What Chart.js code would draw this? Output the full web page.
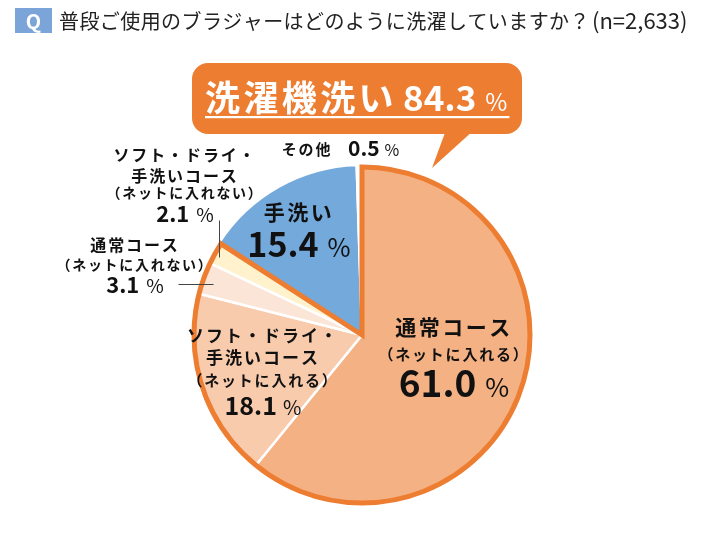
<!DOCTYPE html>
<html>
<head>
<meta charset="utf-8">
<script src="https://cdn.jsdelivr.net/npm/chart.js@4"></script>
<style>
  html, body { margin: 0; padding: 0; background: #fff; }
  #wrap { width: 710px; height: 533px; }
</style>
</head>
<body>
<div id="wrap"><canvas id="pie" width="710" height="533"></canvas></div>
<script>
// data
const title = '普段ご使用のブラジャーはどのように洗濯していますか？';
const sampleNote = '(n=2,633)';
const categories = [
  ['通常コース', '（ネットに入れる）'],
  ['ソフト・ドライ・', '手洗いコース', '（ネットに入れる）'],
  ['通常コース', '（ネットに入れない）'],
  ['ソフト・ドライ・', '手洗いコース', '（ネットに入れない）'],
  ['手洗い'],
  ['その他']
];
const shares = [61.0, 18.1, 3.1, 2.1, 15.4, 0.5];
const groupLabel = '洗濯機洗い';
const groupValue = 84.3;
const groupSize = 4; // first four slices are machine washing

const sliceColors = ['#F4B183', '#F8CBAD', '#FBE5D6', '#FFF2CC', '#74A9DB', '#FFFFFF'];
const ORANGE = '#ED7D31';
const FONT = '"Noto Sans CJK JP", "Noto Sans", sans-serif';

// where each slice's text goes
const labelLayout = [
  { x: 454, lineY: [327, 354], lineSize: [21, 15], valueY: 397, valueSize: 37, pctSize: 26, gap: 9 },
  { x: 263, lineY: [336, 358, 380], lineSize: [17, 17, 15], valueY: 415, valueSize: 25, pctSize: 20, gap: 6 },
  { x: 135, lineY: [245, 265], lineSize: [16, 14], valueY: 293, valueSize: 22, pctSize: 19, gap: 7 },
  { x: 185, lineY: [155, 176, 193], lineSize: [16, 16, 14], valueY: 222, valueSize: 22, pctSize: 19, gap: 7 },
  { x: 299, lineY: [212], lineSize: [21], valueY: 257, valueSize: 34, pctSize: 25, gap: 9 },
  { x: 307, lineY: [149], lineSize: [15], valueX: 348, valueY: 156, valueSize: 21, pctSize: 16, gap: 5 }
];
const leaders = [
  [219, 220, 219, 257],
  [178, 284, 213, 284]
];

function fmt(v) { return v.toFixed(1); }

// spread text so that it covers a given width
function fitSpacing(ctx, text, width) {
  ctx.letterSpacing = '0px';
  const w = ctx.measureText(text).width;
  ctx.letterSpacing = Math.max(0, (width - w) / text.length).toFixed(2) + 'px';
}

function drawValue(ctx, v, x, y, big, small, gap, leftAlign) {
  ctx.font = 'bold ' + big + 'px ' + FONT;
  const num = fmt(v);
  const wn = ctx.measureText(num).width;
  ctx.font = small + 'px ' + FONT;
  const wp = ctx.measureText('%').width;
  const start = leftAlign ? x : x - (wn + gap + wp) / 2;
  ctx.textAlign = 'left';
  ctx.textBaseline = 'alphabetic';
  ctx.font = 'bold ' + big + 'px ' + FONT;
  ctx.fillText(num, start, y);
  ctx.font = small + 'px ' + FONT;
  ctx.fillText('%', start + wn + gap, y);
  return start + wn + gap + wp;
}

const decorations = {
  id: 'decorations',
  beforeDatasetsDraw(chart) {
    const ctx = chart.ctx;
    ctx.save();
    // question badge and title
    ctx.fillStyle = '#7BA5D8';
    ctx.fillRect(15, 8, 37, 25);
    ctx.fillStyle = '#fff';
    ctx.font = 'bold 20px ' + FONT;
    ctx.textAlign = 'center';
    ctx.textBaseline = 'middle';
    ctx.fillText('Q', 33.5, 21);
    ctx.fillStyle = '#222';
    ctx.textAlign = 'left';
    ctx.font = '20px ' + FONT;
    fitSpacing(ctx, title, 531);
    ctx.fillText(title, 59, 21);
    ctx.letterSpacing = '0px';
    ctx.font = '22px ' + FONT;
    ctx.fillText(sampleNote, 592, 21, 100);

    // callout bubble
    ctx.fillStyle = ORANGE;
    ctx.beginPath();
    ctx.roundRect(192, 63, 330, 71, 16);
    ctx.fill();
    ctx.beginPath();
    ctx.moveTo(446, 130);
    ctx.lineTo(432, 168);
    ctx.lineTo(474, 130);
    ctx.closePath();
    ctx.fill();
    ctx.restore();
  },
  afterDatasetsDraw(chart) {
    const ctx = chart.ctx;
    const arcs = chart.getDatasetMeta(0).data;
    const a0 = arcs[0], aN = arcs[groupSize - 1];
    const cx = a0.x, cy = a0.y, r = a0.outerRadius;
    ctx.save();
    // orange outline around the machine-wash group
    ctx.beginPath();
    ctx.moveTo(cx, cy);
    ctx.arc(cx, cy, r - 2, a0.startAngle, aN.endAngle);
    ctx.closePath();
    ctx.lineWidth = 5;
    ctx.lineJoin = 'miter';
    ctx.strokeStyle = ORANGE;
    ctx.stroke();

    // bubble text
    ctx.fillStyle = '#fff';
    ctx.textAlign = 'left';
    ctx.textBaseline = 'alphabetic';
    ctx.font = 'bold 35px ' + FONT;
    fitSpacing(ctx, groupLabel, 192);
    ctx.fillText(groupLabel, 205, 111);
    ctx.letterSpacing = '0px';
    const end = drawValue(ctx, groupValue, 403, 111, 35, 24, 9, true);
    ctx.fillRect(205, 116, end - 205 + 2, 2.2);

    // slice labels
    ctx.fillStyle = '#111';
    shares.forEach((v, i) => {
      const L = labelLayout[i];
      ctx.textAlign = 'center';
      ctx.textBaseline = 'middle';
      categories[i].forEach((line, j) => {
        const s = L.lineSize[j];
        ctx.font = 'bold ' + s + 'px ' + FONT;
        ctx.letterSpacing = (s * 0.12).toFixed(1) + 'px';
        ctx.fillText(line, L.x, L.lineY[j]);
      });
      ctx.letterSpacing = '0px';
      if (L.valueX !== undefined) {
        drawValue(ctx, v, L.valueX, L.valueY, L.valueSize, L.pctSize, L.gap, true);
      } else {
        drawValue(ctx, v, L.x, L.valueY, L.valueSize, L.pctSize, L.gap, false);
      }
    });

    // leader lines
    ctx.strokeStyle = '#444';
    ctx.lineWidth = 1;
    leaders.forEach(l => {
      ctx.beginPath();
      ctx.moveTo(l[0] + 0.5, l[1] + 0.5);
      ctx.lineTo(l[2] + 0.5, l[3] + 0.5);
      ctx.stroke();
    });
    ctx.restore();
  }
};

new Chart(document.getElementById('pie'), {
  type: 'pie',
  data: {
    labels: categories.map(c => c.join('')),
    datasets: [{
      data: shares,
      backgroundColor: sliceColors,
      borderColor: '#fff',
      borderWidth: 2.5
    }]
  },
  options: {
    responsive: false,
    animation: false,
    radius: 170,
    layout: { padding: { left: 180, right: 166, top: 153, bottom: 16 } },
    plugins: {
      legend: { display: false },
      tooltip: { enabled: false }
    }
  },
  plugins: [decorations]
});
</script>
</body>
</html>
